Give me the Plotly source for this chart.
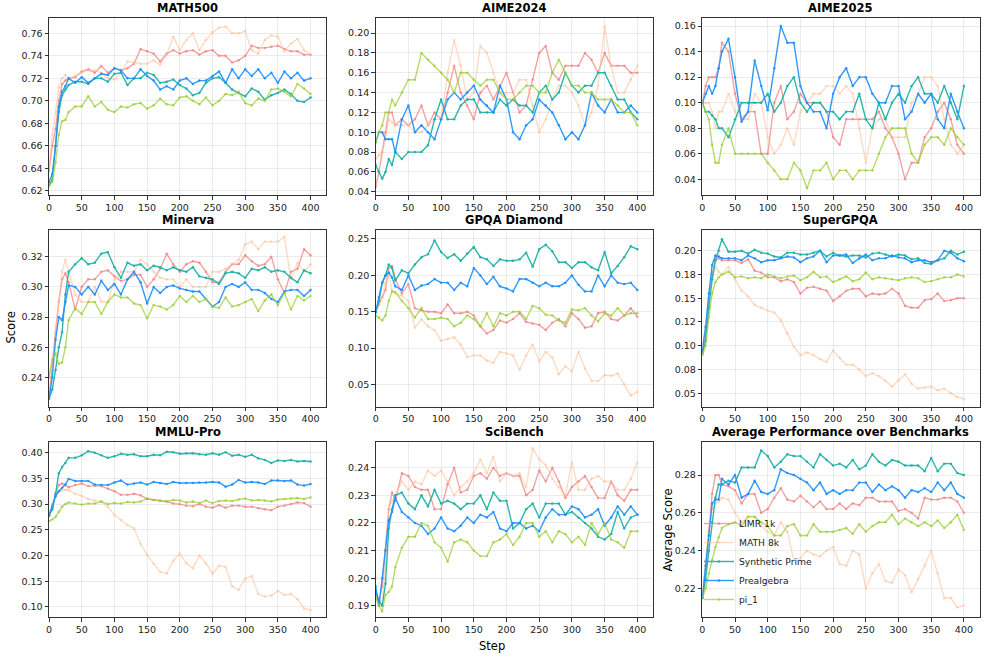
import plotly.graph_objects as go

# ---------------- data ----------------
STEPS = [0, 5, 10, 15, 20, 25, 30,
         40, 50, 60, 70, 80, 90, 100,
         110, 120, 130, 140, 150, 160, 170, 180, 190, 200,
         210, 220, 230, 240, 250, 260, 270, 280, 290, 300,
         310, 320, 330, 340, 350, 360, 370, 380, 390, 400]

SERIES_NAMES = ["LIMR 1k", "MATH 8k", "Synthetic Prime", "Prealgebra", "pi_1"]
X_TICKS = [0, 50, 100, 150, 200, 250, 300, 350, 400]

# MATH500
math500_limr = [0.638, 0.660, 0.675, 0.700, 0.715, 0.718, 0.720,
                0.721, 0.726, 0.728, 0.725, 0.731, 0.725, 0.729,
                0.727, 0.729, 0.733, 0.746, 0.744, 0.742, 0.735, 0.742, 0.745, 0.742,
                0.744, 0.745, 0.741, 0.744, 0.745, 0.740, 0.740, 0.734, 0.736, 0.740,
                0.749, 0.747, 0.747, 0.748, 0.749, 0.746, 0.744, 0.744, 0.741, 0.741]
math500_math8k = [0.640, 0.670, 0.690, 0.712, 0.720, 0.723, 0.720,
                  0.722, 0.725, 0.727, 0.727, 0.725, 0.720, 0.719,
                  0.725, 0.735, 0.734, 0.733, 0.733, 0.736, 0.732, 0.741, 0.757, 0.745,
                  0.754, 0.760, 0.745, 0.754, 0.761, 0.765, 0.766, 0.760, 0.760, 0.762,
                  0.745, 0.742, 0.754, 0.758, 0.757, 0.744, 0.751, 0.755, 0.745, 0.741]
math500_synth = [0.625, 0.630, 0.660, 0.690, 0.705, 0.710, 0.714,
                 0.717, 0.717, 0.715, 0.720, 0.720, 0.717, 0.724,
                 0.725, 0.714, 0.720, 0.720, 0.725, 0.723, 0.716, 0.717, 0.719, 0.714,
                 0.711, 0.705, 0.707, 0.716, 0.720, 0.721, 0.716, 0.710, 0.707, 0.704,
                 0.711, 0.708, 0.701, 0.705, 0.707, 0.710, 0.706, 0.700, 0.699, 0.703]
math500_prealg = [0.628, 0.635, 0.660, 0.695, 0.708, 0.713, 0.720,
                  0.716, 0.721, 0.716, 0.720, 0.724, 0.723, 0.729,
                  0.727, 0.720, 0.720, 0.728, 0.722, 0.718, 0.710, 0.713, 0.710, 0.718,
                  0.720, 0.715, 0.718, 0.718, 0.722, 0.726, 0.716, 0.728, 0.720, 0.728,
                  0.722, 0.728, 0.720, 0.725, 0.716, 0.726, 0.720, 0.725, 0.718, 0.720]
math500_pi1 = [0.625, 0.628, 0.645, 0.670, 0.682, 0.683, 0.690,
               0.695, 0.695, 0.704, 0.695, 0.699, 0.692, 0.690,
               0.695, 0.694, 0.697, 0.698, 0.693, 0.696, 0.702, 0.697, 0.696, 0.703,
               0.704, 0.700, 0.697, 0.703, 0.696, 0.700, 0.706, 0.705, 0.708, 0.698,
               0.696, 0.702, 0.700, 0.710, 0.711, 0.708, 0.704, 0.715, 0.711, 0.706]

# AIME2024
aime24_limr = [0.045, 0.060, 0.080, 0.100, 0.120, 0.120, 0.107,
               0.113, 0.107, 0.113, 0.127, 0.107, 0.120, 0.113,
               0.140, 0.167, 0.140, 0.127, 0.113, 0.140, 0.147, 0.133, 0.147, 0.160,
               0.140, 0.120, 0.127, 0.153, 0.180, 0.187, 0.160, 0.153, 0.167, 0.167,
               0.167, 0.180, 0.173, 0.160, 0.180, 0.167, 0.167, 0.167, 0.160, 0.160]
aime24_math8k = [0.073, 0.077, 0.080, 0.093, 0.113, 0.110, 0.107,
                 0.107, 0.107, 0.100, 0.100, 0.107, 0.113, 0.113,
                 0.160, 0.193, 0.167, 0.133, 0.140, 0.187, 0.180, 0.160, 0.140, 0.140,
                 0.140, 0.153, 0.153, 0.127, 0.100, 0.113, 0.133, 0.147, 0.147, 0.140,
                 0.127, 0.107, 0.120, 0.147, 0.207, 0.167, 0.140, 0.140, 0.153, 0.167]
aime24_synth = [0.067, 0.060, 0.053, 0.060, 0.073, 0.067, 0.080,
                0.073, 0.080, 0.080, 0.080, 0.087, 0.113, 0.133,
                0.113, 0.113, 0.127, 0.133, 0.133, 0.120, 0.120, 0.120, 0.133, 0.127,
                0.133, 0.127, 0.127, 0.120, 0.140, 0.147, 0.133, 0.140, 0.160, 0.147,
                0.140, 0.147, 0.147, 0.160, 0.160, 0.147, 0.133, 0.133, 0.120, 0.113]
aime24_prealg = [0.090, 0.100, 0.100, 0.093, 0.093, 0.093, 0.080,
                 0.113, 0.127, 0.100, 0.107, 0.100, 0.093, 0.113,
                 0.133, 0.140, 0.133, 0.140, 0.147, 0.133, 0.127, 0.120, 0.147, 0.133,
                 0.100, 0.093, 0.107, 0.113, 0.133, 0.127, 0.120, 0.107, 0.093, 0.100,
                 0.093, 0.107, 0.140, 0.127, 0.120, 0.133, 0.120, 0.120, 0.127, 0.120]
aime24_pi1 = [0.090, 0.100, 0.107, 0.120, 0.120, 0.133, 0.127,
              0.140, 0.153, 0.153, 0.180, 0.173, 0.167, 0.160,
              0.153, 0.140, 0.160, 0.160, 0.153, 0.147, 0.153, 0.153, 0.140, 0.133,
              0.133, 0.140, 0.147, 0.147, 0.140, 0.140, 0.160, 0.173, 0.160, 0.147,
              0.147, 0.140, 0.140, 0.133, 0.133, 0.133, 0.127, 0.120, 0.120, 0.107]

# AIME2025
aime25_limr = [0.100, 0.113, 0.120, 0.120, 0.120, 0.127, 0.147,
               0.140, 0.107, 0.087, 0.093, 0.093, 0.060, 0.060,
               0.100, 0.113, 0.087, 0.093, 0.107, 0.100, 0.100, 0.100, 0.093, 0.073,
               0.067, 0.087, 0.087, 0.087, 0.087, 0.087, 0.093, 0.080, 0.073, 0.060,
               0.040, 0.053, 0.053, 0.073, 0.080, 0.093, 0.100, 0.087, 0.067, 0.060]
aime25_math8k = [0.100, 0.100, 0.100, 0.093, 0.080, 0.093, 0.093,
                 0.107, 0.093, 0.087, 0.087, 0.107, 0.100, 0.073,
                 0.060, 0.067, 0.080, 0.067, 0.093, 0.100, 0.107, 0.107, 0.113, 0.113,
                 0.107, 0.113, 0.107, 0.080, 0.053, 0.080, 0.087, 0.087, 0.073, 0.073,
                 0.073, 0.100, 0.107, 0.120, 0.120, 0.113, 0.087, 0.067, 0.060, 0.067]
aime25_synth = [0.100, 0.093, 0.093, 0.090, 0.087, 0.080, 0.080,
                0.073, 0.087, 0.100, 0.100, 0.100, 0.100, 0.107,
                0.093, 0.100, 0.113, 0.120, 0.100, 0.093, 0.100, 0.100, 0.093, 0.093,
                0.087, 0.093, 0.093, 0.107, 0.087, 0.080, 0.100, 0.087, 0.100, 0.107,
                0.100, 0.113, 0.120, 0.107, 0.107, 0.100, 0.113, 0.100, 0.087, 0.113]
aime25_prealg = [0.100, 0.107, 0.113, 0.107, 0.113, 0.127, 0.140,
                 0.150, 0.120, 0.085, 0.093, 0.133, 0.113, 0.094,
                 0.127, 0.160, 0.147, 0.147, 0.113, 0.100, 0.093, 0.093, 0.080, 0.107,
                 0.120, 0.127, 0.113, 0.120, 0.120, 0.107, 0.100, 0.100, 0.113, 0.113,
                 0.087, 0.093, 0.107, 0.100, 0.107, 0.087, 0.080, 0.107, 0.093, 0.080]
aime25_pi1 = [0.100, 0.093, 0.087, 0.067, 0.053, 0.053, 0.067,
              0.080, 0.060, 0.060, 0.060, 0.060, 0.060, 0.053,
              0.047, 0.040, 0.040, 0.053, 0.047, 0.033, 0.047, 0.047, 0.053, 0.040,
              0.047, 0.047, 0.040, 0.047, 0.047, 0.047, 0.060, 0.073, 0.080, 0.080,
              0.080, 0.060, 0.053, 0.067, 0.073, 0.073, 0.067, 0.080, 0.073, 0.067]

# Minerva
minerva_limr = [0.226, 0.250, 0.270, 0.290, 0.305, 0.309, 0.303,
                0.285, 0.300, 0.305, 0.305, 0.310, 0.311, 0.307,
                0.304, 0.305, 0.308, 0.308, 0.300, 0.305, 0.312, 0.322, 0.315, 0.310,
                0.315, 0.317, 0.316, 0.310, 0.303, 0.303, 0.310, 0.315, 0.315, 0.321,
                0.317, 0.314, 0.315, 0.320, 0.305, 0.296, 0.310, 0.312, 0.325, 0.321]
minerva_math8k = [0.240, 0.250, 0.270, 0.290, 0.310, 0.318, 0.310,
                  0.295, 0.290, 0.290, 0.300, 0.290, 0.290, 0.305,
                  0.310, 0.310, 0.310, 0.318, 0.315, 0.310, 0.306, 0.305, 0.305, 0.300,
                  0.305, 0.300, 0.300, 0.300, 0.310, 0.310, 0.312, 0.315, 0.318, 0.328,
                  0.330, 0.325, 0.330, 0.330, 0.330, 0.333, 0.305, 0.316, 0.310, 0.315]
minerva_synth = [0.226, 0.232, 0.245, 0.260, 0.270, 0.295, 0.310,
                 0.315, 0.319, 0.315, 0.316, 0.322, 0.323, 0.313,
                 0.306, 0.316, 0.314, 0.315, 0.311, 0.314, 0.313, 0.311, 0.313, 0.311,
                 0.310, 0.313, 0.307, 0.306, 0.305, 0.302, 0.309, 0.310, 0.309, 0.306,
                 0.312, 0.311, 0.313, 0.310, 0.311, 0.310, 0.306, 0.303, 0.311, 0.309]
minerva_prealg = [0.226, 0.240, 0.265, 0.280, 0.278, 0.290, 0.301,
                  0.300, 0.295, 0.300, 0.295, 0.304, 0.298, 0.302,
                  0.295, 0.305, 0.310, 0.303, 0.289, 0.300, 0.296, 0.300, 0.301, 0.299,
                  0.298, 0.297, 0.297, 0.292, 0.287, 0.290, 0.300, 0.302, 0.300, 0.303,
                  0.298, 0.298, 0.296, 0.292, 0.290, 0.297, 0.298, 0.298, 0.294, 0.298]
minerva_pi1 = [0.240, 0.252, 0.256, 0.249, 0.250, 0.260, 0.278,
               0.286, 0.282, 0.290, 0.290, 0.282, 0.290, 0.295,
               0.293, 0.293, 0.289, 0.288, 0.279, 0.288, 0.287, 0.285, 0.288, 0.294,
               0.290, 0.294, 0.290, 0.292, 0.287, 0.286, 0.293, 0.287, 0.288, 0.290,
               0.292, 0.284, 0.291, 0.295, 0.288, 0.296, 0.285, 0.294, 0.291, 0.294]

# GPQA Diamond
gpqa_limr = [0.150, 0.160, 0.170, 0.180, 0.210, 0.213, 0.195,
             0.175, 0.188, 0.155, 0.152, 0.150, 0.150, 0.148,
             0.160, 0.148, 0.148, 0.150, 0.145, 0.130, 0.120, 0.125, 0.138, 0.135,
             0.140, 0.148, 0.136, 0.134, 0.132, 0.125, 0.135, 0.140, 0.130, 0.148,
             0.140, 0.128, 0.130, 0.148, 0.150, 0.140, 0.138, 0.145, 0.155, 0.143]
gpqa_math8k = [0.150, 0.160, 0.170, 0.190, 0.200, 0.180, 0.175,
               0.172, 0.165, 0.128, 0.140, 0.130, 0.125, 0.110,
               0.113, 0.115, 0.105, 0.088, 0.090, 0.090, 0.083, 0.080, 0.095, 0.093,
               0.090, 0.070, 0.090, 0.105, 0.082, 0.095, 0.087, 0.064, 0.075, 0.068,
               0.095, 0.072, 0.055, 0.055, 0.063, 0.062, 0.065, 0.050, 0.035, 0.040]
gpqa_synth = [0.149, 0.165, 0.190, 0.200, 0.215, 0.210, 0.193,
              0.207, 0.203, 0.215, 0.225, 0.229, 0.248, 0.232,
              0.224, 0.229, 0.220, 0.230, 0.239, 0.225, 0.222, 0.213, 0.222, 0.220,
              0.220, 0.222, 0.231, 0.212, 0.236, 0.242, 0.233, 0.218, 0.218, 0.210,
              0.218, 0.218, 0.211, 0.207, 0.232, 0.203, 0.213, 0.225, 0.240, 0.236]
gpqa_prealg = [0.150, 0.170, 0.190, 0.200, 0.204, 0.197, 0.185,
               0.180, 0.200, 0.180, 0.186, 0.188, 0.195, 0.190,
               0.190, 0.180, 0.190, 0.185, 0.210, 0.200, 0.188, 0.198, 0.185, 0.182,
               0.178, 0.195, 0.195, 0.190, 0.185, 0.190, 0.185, 0.185, 0.190, 0.200,
               0.187, 0.178, 0.178, 0.200, 0.185, 0.200, 0.190, 0.188, 0.190, 0.180]
gpqa_pi1 = [0.145, 0.142, 0.138, 0.145, 0.165, 0.178, 0.177,
            0.165, 0.155, 0.142, 0.155, 0.140, 0.140, 0.142,
            0.140, 0.130, 0.135, 0.145, 0.140, 0.130, 0.148, 0.130, 0.148, 0.145,
            0.150, 0.150, 0.140, 0.158, 0.155, 0.146, 0.145, 0.138, 0.135, 0.153,
            0.152, 0.155, 0.145, 0.137, 0.148, 0.145, 0.155, 0.145, 0.148, 0.148]

# SuperGPQA
sgpqa_limr = [0.095, 0.110, 0.150, 0.175, 0.190, 0.192, 0.190,
              0.190, 0.190, 0.187, 0.191, 0.179, 0.177, 0.172,
              0.172, 0.168, 0.170, 0.167, 0.155, 0.161, 0.162, 0.160, 0.158, 0.147,
              0.152, 0.158, 0.160, 0.160, 0.152, 0.155, 0.154, 0.155, 0.160, 0.155,
              0.142, 0.140, 0.140, 0.148, 0.149, 0.155, 0.147, 0.148, 0.150, 0.150]
sgpqa_math8k = [0.100, 0.120, 0.150, 0.170, 0.183, 0.178, 0.175,
                0.183, 0.170, 0.158, 0.152, 0.143, 0.140, 0.137,
                0.135, 0.127, 0.113, 0.099, 0.090, 0.093, 0.090, 0.086, 0.083, 0.095,
                0.087, 0.080, 0.080, 0.075, 0.068, 0.071, 0.068, 0.063, 0.057, 0.063,
                0.070, 0.060, 0.055, 0.056, 0.057, 0.053, 0.055, 0.050, 0.046, 0.044]
sgpqa_synth = [0.092, 0.105, 0.140, 0.170, 0.190, 0.200, 0.212,
               0.199, 0.199, 0.200, 0.197, 0.201, 0.198, 0.197,
               0.194, 0.193, 0.198, 0.198, 0.196, 0.196, 0.198, 0.200, 0.194, 0.198,
               0.195, 0.194, 0.195, 0.195, 0.193, 0.197, 0.198, 0.196, 0.194, 0.196,
               0.195, 0.191, 0.192, 0.187, 0.186, 0.190, 0.192, 0.200, 0.196, 0.199]
sgpqa_prealg = [0.095, 0.120, 0.155, 0.185, 0.195, 0.194, 0.192,
                0.192, 0.192, 0.190, 0.195, 0.192, 0.188, 0.190,
                0.190, 0.192, 0.194, 0.193, 0.188, 0.192, 0.194, 0.200, 0.188, 0.195,
                0.195, 0.196, 0.187, 0.192, 0.196, 0.190, 0.192, 0.192, 0.195, 0.193,
                0.192, 0.188, 0.190, 0.190, 0.188, 0.190, 0.200, 0.198, 0.192, 0.189]
sgpqa_pi1 = [0.090, 0.100, 0.130, 0.155, 0.167, 0.172, 0.175,
             0.178, 0.172, 0.173, 0.171, 0.172, 0.171, 0.175,
             0.173, 0.171, 0.173, 0.174, 0.169, 0.172, 0.178, 0.172, 0.173, 0.167,
             0.170, 0.173, 0.168, 0.170, 0.177, 0.170, 0.172, 0.171, 0.170, 0.169,
             0.171, 0.172, 0.171, 0.167, 0.168, 0.170, 0.172, 0.172, 0.175, 0.173]

# MMLU-Pro
mmlu_limr = [0.278, 0.290, 0.320, 0.337, 0.340, 0.337, 0.333,
             0.337, 0.340, 0.335, 0.336, 0.335, 0.330, 0.325,
             0.318, 0.318, 0.320, 0.317, 0.310, 0.308, 0.307, 0.305, 0.301, 0.300,
             0.297, 0.296, 0.300, 0.295, 0.293, 0.298, 0.293, 0.297, 0.297, 0.295,
             0.295, 0.292, 0.290, 0.288, 0.295, 0.297, 0.300, 0.303, 0.302, 0.295]
mmlu_math8k = [0.280, 0.300, 0.318, 0.325, 0.327, 0.328, 0.327,
               0.320, 0.316, 0.310, 0.307, 0.305, 0.295, 0.279,
               0.269, 0.259, 0.253, 0.223, 0.201, 0.184, 0.168, 0.165, 0.190, 0.204,
               0.185, 0.175, 0.200, 0.185, 0.165, 0.180, 0.178, 0.140, 0.133, 0.155,
               0.160, 0.125, 0.120, 0.122, 0.131, 0.123, 0.125, 0.115, 0.097, 0.094]
mmlu_synth = [0.278, 0.290, 0.320, 0.360, 0.372, 0.380, 0.390,
              0.390, 0.395, 0.403, 0.400, 0.395, 0.390, 0.393,
              0.398, 0.396, 0.397, 0.393, 0.393, 0.396, 0.395, 0.402, 0.401, 0.398,
              0.399, 0.399, 0.397, 0.396, 0.399, 0.396, 0.401, 0.394, 0.396, 0.392,
              0.396, 0.389, 0.386, 0.380, 0.385, 0.384, 0.386, 0.383, 0.384, 0.383]
mmlu_prealg = [0.278, 0.295, 0.315, 0.325, 0.332, 0.338, 0.349,
               0.345, 0.345, 0.345, 0.338, 0.337, 0.337, 0.342,
               0.346, 0.338, 0.340, 0.342, 0.338, 0.343, 0.341, 0.339, 0.343, 0.341,
               0.341, 0.341, 0.342, 0.342, 0.343, 0.342, 0.334, 0.338, 0.347, 0.342,
               0.343, 0.342, 0.339, 0.346, 0.346, 0.345, 0.346, 0.338, 0.336, 0.339]
mmlu_pi1 = [0.267, 0.270, 0.275, 0.285, 0.295, 0.300, 0.303,
            0.301, 0.299, 0.301, 0.301, 0.305, 0.300, 0.302,
            0.301, 0.304, 0.303, 0.305, 0.311, 0.308, 0.306, 0.305, 0.308, 0.307,
            0.303, 0.305, 0.302, 0.307, 0.302, 0.306, 0.307, 0.306, 0.309, 0.311,
            0.307, 0.308, 0.307, 0.305, 0.309, 0.310, 0.311, 0.312, 0.310, 0.313]

# SciBench
sci_limr = [0.195, 0.192, 0.197, 0.210, 0.225, 0.231, 0.228,
            0.238, 0.237, 0.233, 0.232, 0.232, 0.225, 0.225,
            0.234, 0.240, 0.231, 0.232, 0.237, 0.238, 0.236, 0.240, 0.237, 0.238,
            0.237, 0.237, 0.230, 0.232, 0.239, 0.235, 0.240, 0.235, 0.229, 0.233,
            0.235, 0.237, 0.233, 0.229, 0.229, 0.235, 0.230, 0.228, 0.232, 0.232]
sci_math8k = [0.195, 0.190, 0.190, 0.205, 0.225, 0.228, 0.230,
              0.235, 0.232, 0.235, 0.234, 0.239, 0.237, 0.239,
              0.235, 0.230, 0.233, 0.235, 0.238, 0.243, 0.238, 0.244, 0.235, 0.238,
              0.237, 0.238, 0.233, 0.247, 0.243, 0.241, 0.236, 0.233, 0.230, 0.242,
              0.232, 0.232, 0.236, 0.237, 0.235, 0.235, 0.232, 0.232, 0.236, 0.242]
sci_synth = [0.195, 0.192, 0.190, 0.198, 0.218, 0.225, 0.230,
             0.231, 0.227, 0.225, 0.230, 0.226, 0.232, 0.227,
             0.228, 0.227, 0.225, 0.227, 0.227, 0.230, 0.225, 0.231, 0.228, 0.228,
             0.218, 0.220, 0.225, 0.227, 0.222, 0.227, 0.227, 0.227, 0.223, 0.224,
             0.222, 0.220, 0.218, 0.215, 0.214, 0.216, 0.224, 0.218, 0.222, 0.223]
sci_prealg = [0.197, 0.190, 0.200, 0.210, 0.221, 0.224, 0.229,
              0.224, 0.222, 0.220, 0.219, 0.216, 0.218, 0.222,
              0.218, 0.217, 0.219, 0.222, 0.220, 0.223, 0.222, 0.224, 0.218, 0.217,
              0.220, 0.220, 0.218, 0.219, 0.217, 0.222, 0.225, 0.223, 0.223, 0.226,
              0.225, 0.222, 0.223, 0.225, 0.219, 0.222, 0.226, 0.223, 0.226, 0.223]
sci_pi1 = [0.193, 0.190, 0.188, 0.194, 0.195, 0.197, 0.204,
           0.211, 0.215, 0.215, 0.220, 0.219, 0.213, 0.211,
           0.206, 0.213, 0.214, 0.213, 0.210, 0.208, 0.208, 0.213, 0.214, 0.216,
           0.212, 0.215, 0.220, 0.220, 0.215, 0.217, 0.213, 0.217, 0.216, 0.213,
           0.215, 0.212, 0.220, 0.216, 0.220, 0.214, 0.213, 0.211, 0.217, 0.217]

# Average Performance over Benchmarks
avg_limr = [0.215, 0.230, 0.250, 0.270, 0.280, 0.280, 0.275,
            0.274, 0.272, 0.265, 0.270, 0.270, 0.260, 0.262,
            0.268, 0.273, 0.267, 0.266, 0.269, 0.266, 0.263, 0.266, 0.262, 0.262,
            0.265, 0.262, 0.265, 0.264, 0.268, 0.268, 0.266, 0.266, 0.266, 0.261,
            0.262, 0.260, 0.257, 0.268, 0.267, 0.267, 0.268, 0.268, 0.266, 0.260]
avg_math8k = [0.215, 0.235, 0.250, 0.262, 0.265, 0.266, 0.268,
              0.267, 0.260, 0.255, 0.258, 0.258, 0.253, 0.250,
              0.248, 0.255, 0.250, 0.235, 0.236, 0.240, 0.238, 0.237, 0.240, 0.242,
              0.233, 0.232, 0.240, 0.238, 0.220, 0.228, 0.233, 0.224, 0.223, 0.230,
              0.227, 0.218, 0.225, 0.232, 0.240, 0.228, 0.215, 0.215, 0.210, 0.211]
avg_synth = [0.215, 0.225, 0.240, 0.255, 0.268, 0.275, 0.275,
             0.277, 0.276, 0.284, 0.284, 0.284, 0.293, 0.290,
             0.284, 0.287, 0.291, 0.290, 0.290, 0.287, 0.284, 0.291, 0.288, 0.285,
             0.286, 0.284, 0.288, 0.283, 0.285, 0.291, 0.287, 0.285, 0.288, 0.287,
             0.285, 0.285, 0.285, 0.282, 0.289, 0.282, 0.286, 0.286, 0.281, 0.280]
avg_prealg = [0.215, 0.232, 0.248, 0.265, 0.267, 0.267, 0.278,
              0.275, 0.280, 0.268, 0.270, 0.277, 0.271, 0.270,
              0.272, 0.283, 0.281, 0.280, 0.278, 0.276, 0.272, 0.276, 0.270, 0.272,
              0.270, 0.272, 0.272, 0.276, 0.276, 0.271, 0.275, 0.272, 0.274, 0.272,
              0.268, 0.272, 0.271, 0.273, 0.271, 0.276, 0.272, 0.276, 0.270, 0.268]
avg_pi1 = [0.215, 0.220, 0.228, 0.235, 0.242, 0.247, 0.252,
           0.254, 0.255, 0.253, 0.258, 0.258, 0.255, 0.253,
           0.248, 0.248, 0.253, 0.254, 0.248, 0.248, 0.254, 0.250, 0.250, 0.250,
           0.251, 0.252, 0.249, 0.254, 0.250, 0.253, 0.255, 0.255, 0.259, 0.254,
           0.257, 0.255, 0.253, 0.255, 0.253, 0.256, 0.252, 0.255, 0.259, 0.251]

# y tick values per panel
math500_ticks = [0.62, 0.64, 0.66, 0.68, 0.70, 0.72, 0.74, 0.76]
aime24_ticks = [0.04, 0.06, 0.08, 0.10, 0.12, 0.14, 0.16, 0.18, 0.20]
aime25_ticks = [0.04, 0.06, 0.08, 0.10, 0.12, 0.14, 0.16]
minerva_ticks = [0.24, 0.26, 0.28, 0.30, 0.32]
gpqa_ticks = [0.05, 0.10, 0.15, 0.20, 0.25]
sgpqa_ticks = [0.05, 0.075, 0.10, 0.125, 0.15, 0.175, 0.20]
sgpqa_ticktext = ["0.05", "0.08", "0.10", "0.12", "0.15", "0.18", "0.20"]
mmlu_ticks = [0.10, 0.15, 0.20, 0.25, 0.30, 0.35, 0.40]
sci_ticks = [0.19, 0.20, 0.21, 0.22, 0.23, 0.24]
avg_ticks = [0.22, 0.24, 0.26, 0.28]

PANELS = [
    ("MATH500", [math500_limr, math500_math8k, math500_synth, math500_prealg, math500_pi1], math500_ticks, None),
    ("AIME2024", [aime24_limr, aime24_math8k, aime24_synth, aime24_prealg, aime24_pi1], aime24_ticks, None),
    ("AIME2025", [aime25_limr, aime25_math8k, aime25_synth, aime25_prealg, aime25_pi1], aime25_ticks, None),
    ("Minerva", [minerva_limr, minerva_math8k, minerva_synth, minerva_prealg, minerva_pi1], minerva_ticks, None),
    ("GPQA Diamond", [gpqa_limr, gpqa_math8k, gpqa_synth, gpqa_prealg, gpqa_pi1], gpqa_ticks, None),
    ("SuperGPQA", [sgpqa_limr, sgpqa_math8k, sgpqa_synth, sgpqa_prealg, sgpqa_pi1], sgpqa_ticks, sgpqa_ticktext),
    ("MMLU-Pro", [mmlu_limr, mmlu_math8k, mmlu_synth, mmlu_prealg, mmlu_pi1], mmlu_ticks, None),
    ("SciBench", [sci_limr, sci_math8k, sci_synth, sci_prealg, sci_pi1], sci_ticks, None),
    ("Average Performance over Benchmarks", [avg_limr, avg_math8k, avg_synth, avg_prealg, avg_pi1], avg_ticks, None),
]

# ---------------- style / layout ----------------
COLORS = ["rgba(240,128,128,0.72)", "rgba(255,190,150,0.55)", "rgba(32,178,165,0.95)",
          "rgba(30,144,255,0.92)", "rgba(154,205,50,0.72)"]
Y_RANGES = [(0.6164, 0.7733), (0.0367, 0.2149), (0.0277, 0.1661),
            (0.2208, 0.3377), (0.0198, 0.2624), (0.036, 0.2219),
            (0.0794, 0.4214), (0.1858, 0.2494), (0.2047, 0.2976)]
XDOM = [(0.0497, 0.3309), (0.3810, 0.6623), (0.7123, 0.9935)]
YDOM = [(0.7036, 0.9722), (0.3822, 0.6505), (0.0616, 0.3287)]
FONT = "DejaVu Sans"
AXCOL = "rgba(0,0,0,0.8)"

fig = go.Figure()
annotations = []
for i, (title, series, yt, ytt) in enumerate(PANELS):
    r, c = divmod(i, 3)
    sfx = "" if i == 0 else str(i + 1)
    for k, vals in enumerate(series):
        fig.add_trace(go.Scatter(
            x=STEPS, y=vals, name=SERIES_NAMES[k], mode="lines+markers",
            line=dict(color=COLORS[k], width=1.4),
            marker=dict(size=2.5, color=COLORS[k]),
            xaxis="x" + sfx, yaxis="y" + sfx,
            showlegend=(i == 8), legendgroup=SERIES_NAMES[k]))
    common = dict(showline=True, mirror=True, linecolor=AXCOL, linewidth=1,
                  ticks="outside", ticklen=3.5, tickwidth=0.8, tickcolor=AXCOL,
                  showgrid=True, gridcolor="rgba(0,0,0,0.08)", gridwidth=0.8,
                  zeroline=False, automargin=False,
                  tickfont=dict(family=FONT, size=9.5, color="#222"))
    xa = dict(common, domain=list(XDOM[c]), anchor="y" + sfx, range=[0, 424],
              tickvals=X_TICKS)
    ya = dict(common, domain=list(YDOM[r]), anchor="x" + sfx, range=list(Y_RANGES[i]),
              tickvals=yt)
    if ytt is not None:
        ya["ticktext"] = ytt
    else:
        ya["tickformat"] = ".2f"
    fig.update_layout({"xaxis" + sfx: xa, "yaxis" + sfx: ya})
    annotations.append(dict(text="<b>" + title + "</b>", x=(XDOM[c][0] + XDOM[c][1]) / 2,
                            y=YDOM[r][1], xref="paper", yref="paper", xanchor="center",
                            yanchor="bottom", yshift=1, showarrow=False,
                            font=dict(family=FONT, size=11.5, color="black")))

W, H = 986, 658
annotations.append(dict(text="Score", x=10.5 / W, y=1 - 328 / H, xref="paper", yref="paper",
                        textangle=-90, showarrow=False, xanchor="center", yanchor="middle",
                        font=dict(family=FONT, size=11.5, color="black")))
annotations.append(dict(text="Step", x=491.5 / W, y=1 - 646 / H, xref="paper", yref="paper",
                        showarrow=False, xanchor="center", yanchor="middle",
                        font=dict(family=FONT, size=11.5, color="black")))
annotations.append(dict(text="Average Score", x=667.5 / W, y=1 - 530 / H, xref="paper", yref="paper",
                        textangle=-90, showarrow=False, xanchor="center", yanchor="middle",
                        font=dict(family=FONT, size=11.5, color="black")))

fig.update_layout(
    width=W, height=H, autosize=False,
    margin=dict(l=0, r=0, t=0, b=0, pad=0, autoexpand=False),
    paper_bgcolor="white", plot_bgcolor="white",
    font=dict(family=FONT, color="#222"),
    annotations=annotations,
    showlegend=True,
    legend=dict(x=699 / W, y=1 - 614 / H, xanchor="left", yanchor="bottom",
                bgcolor="rgba(255,255,255,0)", borderwidth=0, itemwidth=30,
                font=dict(family=FONT, size=9.2, color="#222"),
                tracegroupgap=0),
)

fig.write_html("out.html",
               config={"displayModeBar": False},
               post_script="document.body.style.margin='0';document.body.style.padding='0';")
